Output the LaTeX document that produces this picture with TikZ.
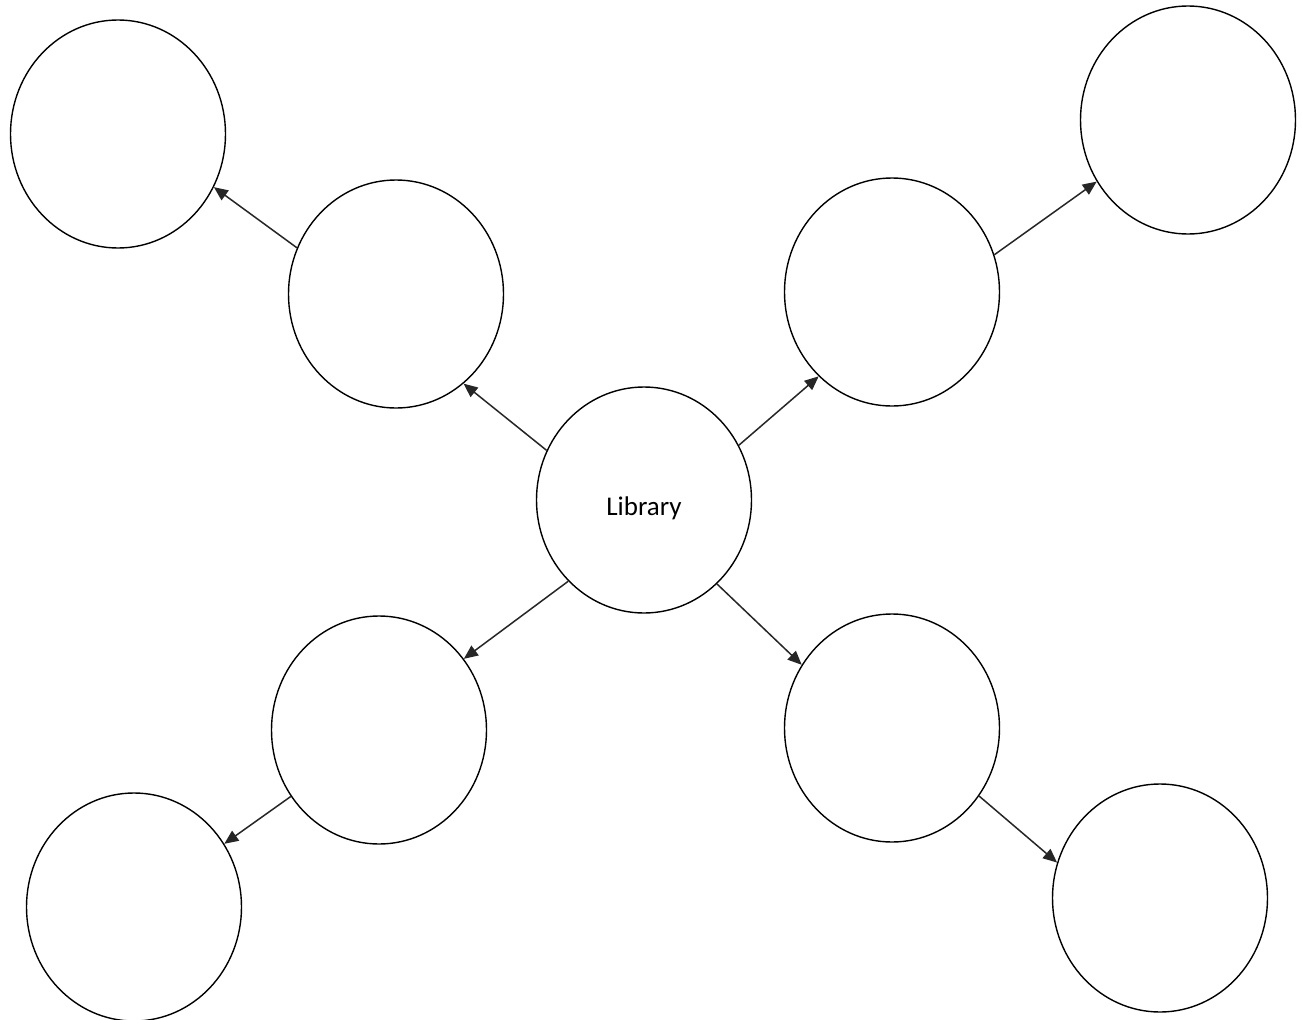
\documentclass[tikz,border=0pt]{standalone}
\usepackage{fontspec}
\setmainfont{Carlito}
\usetikzlibrary{shapes.geometric,arrows.meta}
\begin{document}
\begin{tikzpicture}[x=1pt,y=-1pt,
  bubble/.style={ellipse,draw=black,line width=1.4pt,inner sep=0pt,
    minimum width=215pt,minimum height=228pt},
  caption/.style={font=\fontsize{27}{32}\selectfont,yshift=-8pt},
  link/.style={draw=black!85,line width=1.5pt,-{Triangle[length=14pt,width=12pt]}}]
\useasboundingbox (0,0) rectangle (1302,1020);
\fill[white] (0,0) rectangle (1302,1020);
% hub and its branches
\node[bubble,minimum height=226pt,label={[caption]center:Library}] (lib) at (644,500) {};
\node[bubble] (ul) at (396,294) {};
\node[bubble] (ur) at (892,292) {};
\node[bubble] (ll) at (379,730) {};
\node[bubble] (lr) at (892,728) {};
\node[bubble] (tl) at (118,134) {};
\node[bubble] (tr) at (1188,120) {};
\node[bubble] (bl) at (134,907) {};
\node[bubble] (br) at (1160,898) {};
% connectors
\draw[link] (lib.153) -- (ul.-53);
\draw[link] (lib.30) -- (ur.-131);
\draw[link] (lib.227) -- (ll.40);
\draw[link] (lib.-49) -- (lr.145);
\draw[link] (ul.155) -- (tl.-29);
\draw[link] (ur.20) -- (tr.-146);
\draw[link] (ll.217) -- (bl.35);
\draw[link] (lr.-38) -- (br.161);
\end{tikzpicture}
\end{document}
